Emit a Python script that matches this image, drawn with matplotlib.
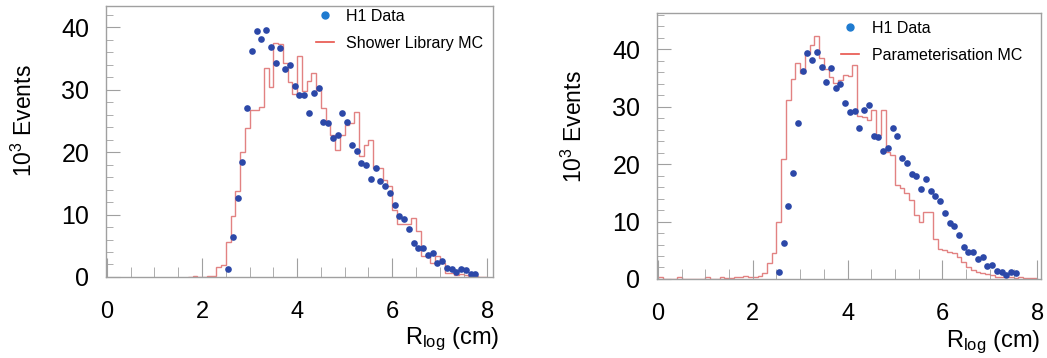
import matplotlib
matplotlib.use("Agg")
import matplotlib.pyplot as plt
import numpy as np
from matplotlib.lines import Line2D
from matplotlib.ticker import MultipleLocator

plt.rcParams['font.family'] = ['Liberation Sans', 'DejaVu Sans']
plt.rcParams['mathtext.fontset'] = 'custom'
plt.rcParams['mathtext.rm'] = 'Liberation Sans'
plt.rcParams['mathtext.it'] = 'Liberation Sans:italic'

bin_width = 0.1

# H1 data (10^3 events), first bin centre 2.55
data_start = 2.55
h1_data = [1.3, 6.35, 12.7, 18.4, 27.1, 36.2, 39.4, 38.1, 39.5, 36.9,
           34.3, 36.7, 33.3, 33.9, 30.6, 29.1, 29.2, 26.2, 29.4, 30.3,
           24.9, 24.7, 22.2, 22.8, 26.3, 24.9, 21.1, 20.2, 18.2, 18.0,
           15.7, 17.4, 15.3, 14.5, 13.5, 11.5, 9.8, 9.3, 7.7, 5.5,
           4.7, 4.7, 3.5, 3.8, 2.3, 2.5, 1.4, 1.3, 0.75, 1.3,
           1.1, 0.5, 0.5]
n_right = 51  # right plot stops at 7.55

# Shower Library MC, first bin starts at 1.7
sl_start = 1.7
sl_mc = [0.05, 0.1, 0.05, 0.05, 0.1, 0.2, 1.65, 1.9, 5.65, 9.8,
         13.7, 19.95, 23.8, 26.8, 26.7, 27.2, 33.4, 30.45, 37.5, 37.3,
         34.2, 31.25, 29.3, 35.4, 29.8, 31.4, 32.7, 30.0, 27.0, 24.6,
         22.7, 20.3, 22.7, 24.4, 24.6, 26.35, 19.4, 21.1, 22.0, 17.5,
         17.4, 15.5, 14.6, 10.7, 8.5, 8.5, 8.5, 9.5, 7.4, 3.3,
         3.25, 2.2, 3.3, 2.2, 0.7, 0.7, 0.3, 0.5, 0.3, 0.2,
         0.1, 0.05, 0.05]

# Parameterisation MC, first bin starts at 0.0
par_start = 0.0
par_mc = [0.3, 0, 0, 0, 0.3, 0, 0, 0, 0, 0,
          0.3, 0, 0, 0.4, 0.1, 0.1, 0.4, 0.4, 0.6, 0.4,
          0.4, 0.6, 1.0, 2.7, 4.6, 10.0, 20.8, 31.2, 34.8, 37.6,
          35.8, 39.2, 40.8, 42.3, 38.4, 36.6, 35.1, 34.1, 34.6, 35.5,
          35.3, 37.3, 28.4, 28.2, 27.6, 29.4, 25.0, 29.4, 22.1, 21.5,
          16.4, 15.8, 14.9, 13.8, 11.1, 10.0, 11.7, 11.7, 6.9, 5.3,
          5.0, 4.75, 4.5, 3.9, 3.0, 2.1, 1.6, 1.3, 1.0, 0.9,
          0.7, 0.4, 0.4, 0.3, 0.3, 0.2, 0.3, 0.2, 0.1, 0.2]

x_ticks = [0, 2, 4, 6, 8]
y_ticks = [0, 10, 20, 30, 40]

dot_col = '#2c48a8'
mc_col = '#e28282'
frame_col = '#a0a0a0'


def draw_panel(ax, mc_start, mc, label, n_pts, xmax, ymax, leg_xy):
    edges = mc_start + bin_width * np.arange(len(mc) + 1)
    ax.stairs(mc, edges, color=mc_col, lw=1.0)
    xs = data_start + bin_width * np.arange(n_pts)
    ax.plot(xs, h1_data[:n_pts], 'o', color=dot_col, ms=4.8, mec='none')

    ax.set_xlim(-0.02, xmax)
    ax.set_ylim(0, ymax)
    ax.set_xticks(x_ticks)
    ax.set_yticks(y_ticks)
    ax.xaxis.set_minor_locator(MultipleLocator(0.5))
    ax.yaxis.set_minor_locator(MultipleLocator(2))
    ax.tick_params(axis='x', which='major', direction='in', length=14,
                   color=frame_col, pad=17, labelsize=17)
    ax.tick_params(axis='x', which='minor', direction='in', length=7,
                   color=frame_col)
    ax.tick_params(axis='y', which='major', direction='in', length=10,
                   color=frame_col, pad=12, labelsize=18)
    ax.tick_params(axis='y', which='minor', direction='in', length=5,
                   color=frame_col)
    for s in ax.spines.values():
        s.set_color(frame_col)
        s.set_linewidth(1.0)

    ax.set_xlabel(r'R$_{\mathrm{log}}$ (cm)', fontsize=17, ha='right', va='top')
    ax.set_ylabel(r'10$^{3}$ Events', fontsize=16.5)

    handles = [Line2D([], [], ls='none', marker='o', color='#1f7bd0', ms=5),
               Line2D([], [], color='#e8534a', lw=1.2)]
    ax.legend(handles, ['H1 Data', label], loc='upper left',
              bbox_to_anchor=leg_xy, frameon=False, fontsize=11.5,
              borderpad=0, borderaxespad=0, handlelength=1.1,
              handletextpad=0.8, labelspacing=0.75)


fig = plt.figure(figsize=(10.47, 3.58), dpi=100)
ax1 = fig.add_axes([0.1012, 0.2263, 0.3697, 0.7569])
ax2 = fig.add_axes([0.6275, 0.2207, 0.3668, 0.7430])

draw_panel(ax1, sl_start, sl_mc, 'Shower Library MC', len(h1_data), 8.12, 43.4, (0.543, 0.99))
draw_panel(ax2, par_start, par_mc, 'Parameterisation MC', n_right, 8.08, 46.3, (0.48, 0.97))

ax1.xaxis.set_label_coords(1.016, -0.18)
ax2.xaxis.set_label_coords(0.998, -0.185)
ax1.yaxis.set_label_coords(-0.178, 0.576)
ax2.yaxis.set_label_coords(-0.182, 0.571)

fig.savefig('out.png', dpi=100)
